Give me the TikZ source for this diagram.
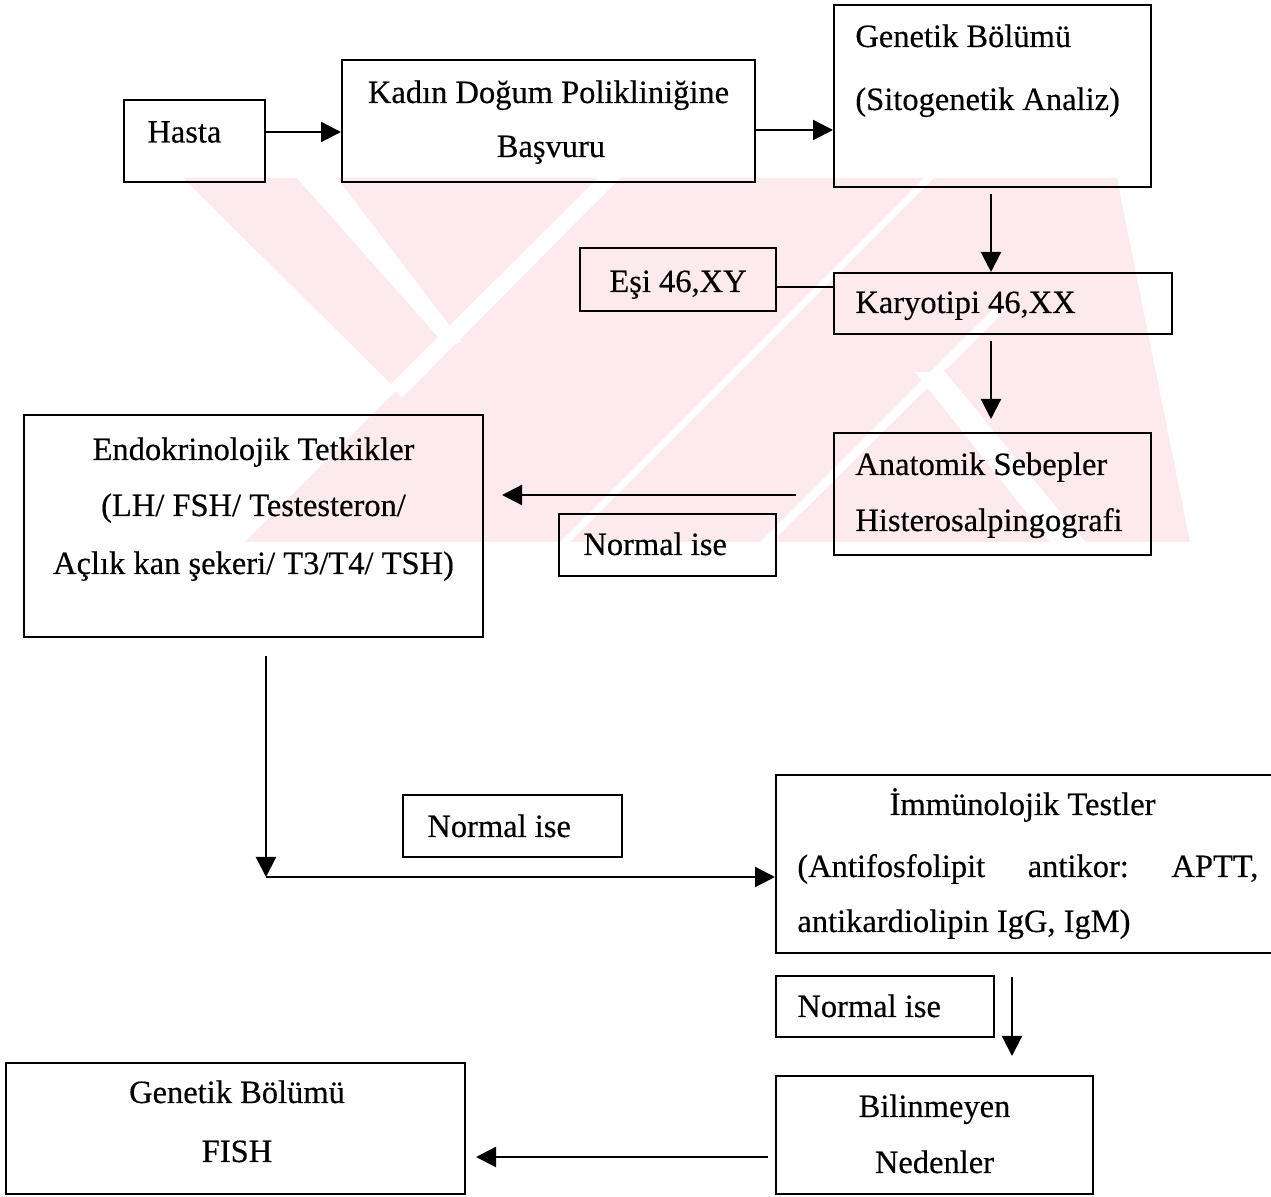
\documentclass[tikz,border=0pt]{standalone}
\usepackage{fontspec}
\setmainfont{Liberation Serif}[FakeBold=0.4]
\usetikzlibrary{arrows.meta,fit}
\definecolor{wm}{RGB}{253,234,238}
\begin{document}
\begin{tikzpicture}[x=0.5pt,y=-0.5pt,
  box/.style={draw,line width=1pt,inner sep=0pt},
  txt/.style={inner sep=0pt,font=\fontsize{16.25}{20}\selectfont},
  arr/.style={line width=1.1pt,-{Triangle[length=10pt,width=10pt]}},
  ln/.style={line width=1.1pt}]
\useasboundingbox (0,0) rectangle (1271,1197);
\clip (0,0) rectangle (1271,1197);
% watermark
\fill[wm] (183,178) -- (1117,178) -- (1190,542) -- (245,542) -- (397,390) -- cycle;
\fill[white] (297,178) -- (337,178) -- (462,342) -- (447,347) -- cycle;
\fill[white] (390,385) -- (598,178) -- (620,178) -- (402,398) -- cycle;
\fill[white] (915,372) -- (945,372) -- (1085,542) -- (1050,542) -- cycle;
\fill[white] (560,542) -- (924,178) -- (934,178) -- (570,542) -- cycle;
\fill[white] (760,542) -- (1000,302) -- (1006,310) -- (772,542) -- cycle;
% boxes
\node[box,fit={(124,100) (265,182)}] (hasta) {};
\node[box,fit={(342,60) (755,182)}] (kadin) {};
\node[box,fit={(834,5) (1151,187)}] (genetik) {};
\node[box,fit={(580,248) (776,311)}] (esi) {};
\node[box,fit={(834,273) (1172,334)}] (karyo) {};
\node[box,fit={(834,433) (1151,555)}] (anat) {};
\node[box,fit={(559,514) (776,576)}] (norm1) {};
\node[box,fit={(24,415) (483,637)}] (endo) {};
\node[box,fit={(403,795) (622,857)}] (norm2) {};
\node[box,fit={(776,775) (1290,953)}] (immun) {};
\node[box,fit={(776,976) (994,1037)}] (norm3) {};
\node[box,fit={(776,1076) (1093,1194)}] (bilin) {};
\node[box,fit={(6,1063) (465,1194)}] (fish) {};
% texts
\node[txt,anchor=base west] (thasta) at (147,142.5) {Hasta};
\node[txt,anchor=base] (tkadin1) at (548.5,103) {Kadın Doğum Polikliniğine};
\node[txt,anchor=base] (tkadin2) at (551,157) {Başvuru};
\node[txt,anchor=base west] (tgen1) at (855,47) {Genetik Bölümü};
\node[txt,anchor=base west] (tgen2) at (855,110) {(Sitogenetik Analiz)};
\node[txt,anchor=base west] (tesi) at (609,292) {Eşi 46,XY};
\node[txt,anchor=base west] (tkaryo) at (855,313) {Karyotipi 46,XX};
\node[txt,anchor=base west] (tanat1) at (855,475) {Anatomik Sebepler};
\node[txt,anchor=base west] (tanat2) at (855,531) {Histerosalpingografi};
\node[txt,anchor=base west] (tnorm1) at (583,555) {Normal ise};
\node[txt,anchor=base] (tendo1) at (253.5,460) {Endokrinolojik Tetkikler};
\node[txt,anchor=base] (tendo2) at (253.5,516) {(LH/ FSH/ Testesteron/};
\node[txt,anchor=base] (tendo3) at (253.5,574) {Açlık kan şekeri/ T3/T4/ TSH)};
\node[txt,anchor=base west] (tnorm2) at (427,837) {Normal ise};
\node[txt,anchor=base] (timm1) at (1022.5,815) {İmmünolojik Testler};
\node[txt,anchor=base west] (timm2) at (797,877) {\hbox to 230.5pt{(Antifosfolipit\hfill antikor:\hfill APTT,}};
\node[txt,anchor=base west] (timm3) at (797,932) {antikardiolipin IgG, IgM)};
\node[txt,anchor=base west] (tnorm3) at (797,1017) {Normal ise};
\node[txt,anchor=base] (tbil1) at (934.5,1117) {Bilinmeyen};
\node[txt,anchor=base] (tbil2) at (934.5,1173) {Nedenler};
\node[txt,anchor=base] (tfish1) at (237,1103) {Genetik Bölümü};
\node[txt,anchor=base] (tfish2) at (237,1162) {FISH};
% connectors
\draw[arr] (hasta.east |- 0,132) -- (kadin.west |- 0,132);
\draw[arr] (kadin.east |- 0,130) -- (genetik.west |- 0,130);
\draw[arr,shorten <=3pt] (genetik.south -| 991,0) -- (karyo.north -| 991,0);
\draw[ln] (esi.east |- 0,287) -- (karyo.west |- 0,287);
\draw[arr,shorten <=3pt,shorten >=6.5pt] (karyo.south -| 991,0) -- (anat.north -| 991,0);
\draw[arr,shorten <=18.5pt,shorten >=9pt] (anat.west |- 0,495) -- (endo.east |- 0,495);
\coordinate (elbow) at (266,877);
\draw[arr,shorten <=9pt] (endo.south -| elbow) -- (elbow);
\draw[arr] (elbow) -- (immun.west |- elbow);
\draw[arr,shorten <=11.5pt,shorten >=9.5pt] (immun.south -| 1012,0) -- (bilin.north -| 1012,0);
\draw[arr,shorten <=3.5pt,shorten >=5pt] (bilin.west |- 0,1157) -- (fish.east |- 0,1157);
\end{tikzpicture}
\end{document}
